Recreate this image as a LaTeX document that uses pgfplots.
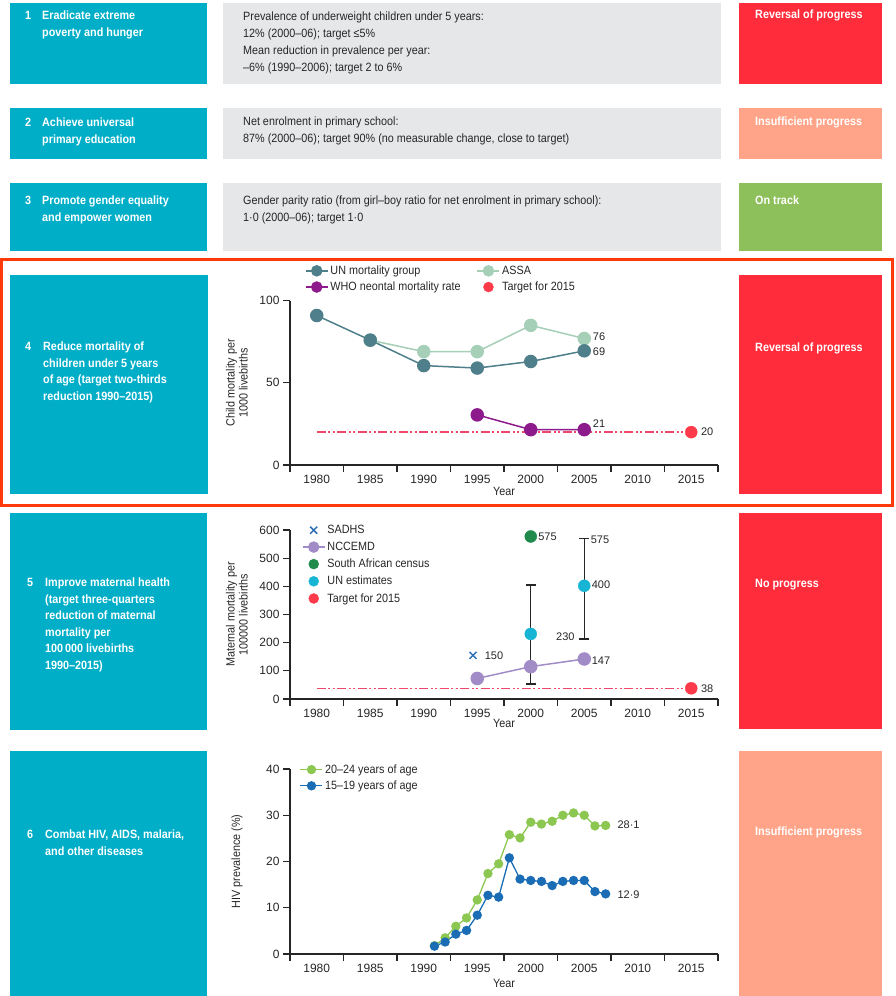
\documentclass[border=0pt]{standalone}
\usepackage{fontspec}
\setmainfont{Liberation Sans}[FakeStretch=0.9]
\newfontfamily\tickfont{Liberation Sans}
\usepackage{pgfplots}
\pgfplotsset{compat=1.18}
\definecolor{mdgblue}{HTML}{00AEC8}
\definecolor{mdggray}{HTML}{E6E7E8}
\definecolor{mdgred}{HTML}{FF2D3B}
\definecolor{mdgsalmon}{HTML}{FFA488}
\definecolor{mdggreen}{HTML}{8DC05A}
\definecolor{hilite}{HTML}{FF3A0A}
\definecolor{unc}{HTML}{4E7F8A}
\definecolor{assa}{HTML}{A5CFB7}
\definecolor{who}{HTML}{8E1B8C}
\definecolor{tgt}{HTML}{FF3B4B}
\definecolor{tgtline}{HTML}{F0466A}
\definecolor{sadhs}{HTML}{2F6FB5}
\definecolor{ncc}{HTML}{A28CC8}
\definecolor{census}{HTML}{1F8A4C}
\definecolor{unest}{HTML}{17B5D3}
\definecolor{hivg}{HTML}{8CC752}
\definecolor{hivb}{HTML}{1A6DB5}
\pgfplotsset{
  mdg/.style={
    scale only axis, width=428pt,
    xmin=1977.5, xmax=2017.5, ymin=0,
    axis lines=left, axis line style={-, black!85, line width=1.1pt},
    xtick={1977.5,1982.5,...,2017.5},
    x tick label as interval,
    xticklabels={1980,1985,1990,1995,2000,2005,2010,2015},
    tick align=outside, major tick length=7pt,
    tick style={black!85, line width=1.1pt},
    ticklabel style={font=\tickfont\fontsize{12}{12}\selectfont, text=black!85},
    /pgf/number format/assume math mode=true,
    xlabel={Year},
    xlabel style={font=\fontsize{12}{12}\selectfont, yshift=4pt, text=black!85},
    ylabel style={font=\fontsize{12}{13}\selectfont, align=center, at={(axis description cs:-0.124,0.5)}, anchor=center, text=black!85},
    legend style={draw=none, fill=none, font=\fontsize{12}{12}\selectfont, inner sep=0pt, outer sep=0pt, row sep=2pt, text=black!85},
    legend cell align=left,
    legend image code/.code={\draw[mark repeat=2,mark phase=2] plot coordinates {(0pt,0pt)(11pt,0pt)(22pt,0pt)};},
    clip=false,
  },
}
\tikzset{
  lab/.style={font=\tickfont\fontsize{11}{11}\selectfont, anchor=west, inner sep=1pt, text=black!85},
  bt/.style={anchor=north west, inner sep=0pt, text=white, font=\bfseries\fontsize{12}{16.5}\selectfont, align=left},
  gt/.style={anchor=north west, inner sep=0pt, text=black!85, font=\fontsize{12}{16.8}\selectfont, align=left},
  tline/.style={tgtline, line width=1.6pt, dash pattern=on 9pt off 2.5pt on 2pt off 2.5pt on 2pt off 2.5pt},
}
\begin{document}
\begin{tikzpicture}
\useasboundingbox (0pt,0pt) rectangle (896pt,-996pt);
\begin{scope}[x=1pt,y=-1pt]
% row 1
\fill[mdgblue] (10,3) rectangle (207,84);
\fill[mdggray] (223,3) rectangle (721,84);
\fill[mdgred] (739,3) rectangle (882,84);
% row 2
\fill[mdgblue] (10,108) rectangle (207,159);
\fill[mdggray] (223,108) rectangle (721,159);
\fill[mdgsalmon] (739,108) rectangle (882,159);
% row 3
\fill[mdgblue] (10,183) rectangle (207,251);
\fill[mdggray] (223,183) rectangle (721,251);
\fill[mdggreen] (739,183) rectangle (882,251);
% row 4
\fill[mdgblue] (10,275) rectangle (208,494);
\fill[mdgred] (739,275) rectangle (882,494);
% row 5
\fill[mdgblue] (10,513) rectangle (207,730);
\fill[mdgred] (739,513) rectangle (882,729);
% row 6
\fill[mdgblue] (10,751) rectangle (207,1000);
\fill[mdgsalmon] (739,751) rectangle (882,1000);
% highlight
\draw[hilite, line width=3pt] (1.5,259) rectangle (892,505);
% texts
\node[bt] at (25,11) {1};
\node[bt] at (42,11) {Eradicate extreme\\poverty and hunger};
\node[bt] at (25,118) {2};
\node[bt] at (42,118) {Achieve universal\\primary education};
\node[bt] at (25,196) {3};
\node[bt] at (42,196) {Promote gender equality\\and empower women};
\node[bt] at (25,342) {4};
\node[bt] at (43,342) {Reduce mortality of\\children under 5 years\\of age (target two-thirds\\reduction 1990--2015)};
\node[bt] at (27,578) {5};
\node[bt] at (45,578) {Improve maternal health\\(target three-quarters\\reduction of maternal\\mortality per\\100\,000 livebirths\\1990--2015)};
\node[bt] at (27,830) {6};
\node[bt] at (45,830) {Combat HIV, AIDS, malaria,\\and other diseases};
\node[gt] at (243,12) {Prevalence of underweight children under 5 years:\\12\% (2000--06); target ≤5\%\\Mean reduction in prevalence per year:\\--6\% (1990--2006); target 2 to 6\%};
\node[gt] at (243,117) {Net enrolment in primary school:\\87\% (2000--06); target 90\% (no measurable change, close to target)};
\node[gt] at (243,196) {Gender parity ratio (from girl--boy ratio for net enrolment in primary school):\\1·0 (2000--06); target 1·0};
\node[bt] at (755,10) {Reversal of progress};
\node[bt] at (755,117) {Insufficient progress};
\node[bt] at (755,196) {On track};
\node[bt] at (755,343) {Reversal of progress};
\node[bt] at (755,579) {No progress};
\node[bt] at (755,827) {Insufficient progress};
\end{scope}

% ---------- chart 4 ----------
\begin{axis}[mdg, at={(290pt,-465pt)}, anchor=south west, height=164.3pt,
  ymax=100, ytick={0,50,100},
  ylabel={Child mortality per\\1000 livebirths},
  legend columns=2,
  legend style={at={(0.035,1.04)}, anchor=south west, /tikz/every even column/.append style={column sep=14pt}},
]
\addlegendimage{unc, line width=1.5pt, mark=*, mark size=5pt}
\addlegendentry{UN mortality group}
\addlegendimage{assa, line width=1.5pt, mark=*, mark size=5pt}
\addlegendentry{ASSA}
\addlegendimage{who, line width=1.5pt, mark=*, mark size=5pt}
\addlegendentry{WHO neontal mortality rate}
\addlegendimage{only marks, tgt, mark=*, mark size=5pt}
\addlegendentry{Target for 2015}
\addplot[tline, forget plot] coordinates {(1980,20) (2015,20)};
\addplot[assa, line width=1.5pt, mark=*, mark size=6pt, forget plot] coordinates {(1985,76) (1990,69) (1995,69) (2000,85) (2005,77)};
\addplot[unc, line width=1.5pt, mark=*, mark size=6pt, forget plot] coordinates {(1980,91) (1985,76) (1990,60.5) (1995,59) (2000,63) (2005,69.5)};
\addplot[who, line width=1.5pt, mark=*, mark size=6pt, forget plot] coordinates {(1995,30.5) (2000,21.5) (2005,21.5)};
\addplot[only marks, tgt, mark=*, mark size=6pt, forget plot] coordinates {(2015,20)};
\node[lab] at (axis cs:2005.7,78) {76};
\node[lab] at (axis cs:2005.7,69) {69};
\node[lab] at (axis cs:2005.7,25) {21};
\node[lab] at (axis cs:2015.8,20) {20};
\end{axis}

% ---------- chart 5 ----------
\begin{axis}[mdg, at={(290pt,-699pt)}, anchor=south west, height=169pt,
  ymax=600, ytick={0,100,...,600},
  ylabel={Maternal mortality per\\100000 livebirths},
  xlabel style={yshift=2pt},
  legend style={at={(0.028,1.04)}, anchor=north west, row sep=3pt},
]
\addlegendimage{only marks, sadhs, mark=x, mark size=5pt, line width=1.5pt}
\addlegendentry{SADHS}
\addlegendimage{ncc, line width=1.5pt, mark=*, mark size=5pt}
\addlegendentry{NCCEMD}
\addlegendimage{only marks, census, mark=*, mark size=5pt}
\addlegendentry{South African census}
\addlegendimage{only marks, unest, mark=*, mark size=5pt}
\addlegendentry{UN estimates}
\addlegendimage{only marks, tgt, mark=*, mark size=5pt}
\addlegendentry{Target for 2015}
\addplot[tline, forget plot] coordinates {(1980,38) (2015,38)};
\addplot[draw=none, mark=none, forget plot,
  error bars/.cd, y dir=both, y explicit,
  error bar style={black!85, line width=1.2pt},
  error mark options={black!85, line width=1.2pt, mark size=5pt, rotate=90}]
  coordinates {(2000,230) +=(0,175) -=(0,177) (2005,400) +=(0,170) -=(0,187)};
\addplot[ncc, line width=1.5pt, mark=*, mark size=6pt, forget plot] coordinates {(1995,73) (2000,115) (2005,142)};
\addplot[only marks, sadhs, mark=x, mark size=5pt, line width=1.5pt, forget plot] coordinates {(1994.6,155)};
\addplot[only marks, census, mark=*, mark size=6pt, forget plot] coordinates {(2000,577)};
\addplot[only marks, unest, mark=*, mark size=6pt, forget plot] coordinates {(2000,231) (2005,402)};
\addplot[only marks, tgt, mark=*, mark size=6pt, forget plot] coordinates {(2015,38)};
\node[lab] at (axis cs:1995.6,153) {150};
\node[lab] at (axis cs:2000.6,575) {575};
\node[lab] at (axis cs:2005.5,565) {575};
\node[lab] at (axis cs:2005.6,405) {400};
\node[lab, anchor=east] at (axis cs:2004.2,220) {230};
\node[lab] at (axis cs:2005.6,135) {147};
\node[lab] at (axis cs:2015.8,38) {38};
\end{axis}

% ---------- chart 6 ----------
\begin{axis}[mdg, at={(290pt,-954pt)}, anchor=south west, height=185pt,
  ymax=40, ytick={0,10,...,40},
  ylabel={HIV prevalence (\%)},
  xlabel style={yshift=-3pt},
  legend style={at={(0.023,1.035)}, anchor=north west, row sep=2pt},
]
\addlegendimage{hivg, line width=1.3pt, mark=*, mark size=4pt}
\addlegendentry{20--24 years of age}
\addlegendimage{hivb, line width=1.3pt, mark=*, mark size=4pt}
\addlegendentry{15--19 years of age}
\addplot[hivg, line width=1.3pt, mark=*, mark size=4pt, forget plot] coordinates {
(1991,1.8) (1992,3.5) (1993,6.0) (1994,7.8) (1995,11.7) (1996,17.4) (1997,19.5) (1998,25.8) (1999,25.1) (2000,28.5) (2001,28.1) (2002,28.7) (2003,30.0) (2004,30.5) (2005,30.0) (2006,27.7) (2007,27.8)};
\addplot[hivb, line width=1.3pt, mark=*, mark size=4pt, forget plot] coordinates {
(1991,1.7) (1992,2.6) (1993,4.3) (1994,5.1) (1995,8.4) (1996,12.7) (1997,12.3) (1998,20.8) (1999,16.2) (2000,15.9) (2001,15.7) (2002,14.8) (2003,15.7) (2004,15.9) (2005,15.9) (2006,13.5) (2007,13.0)};
\node[lab] at (axis cs:2008,27.9) {28·1};
\node[lab] at (axis cs:2008,12.9) {12·9};
\end{axis}
\end{tikzpicture}
\end{document}
